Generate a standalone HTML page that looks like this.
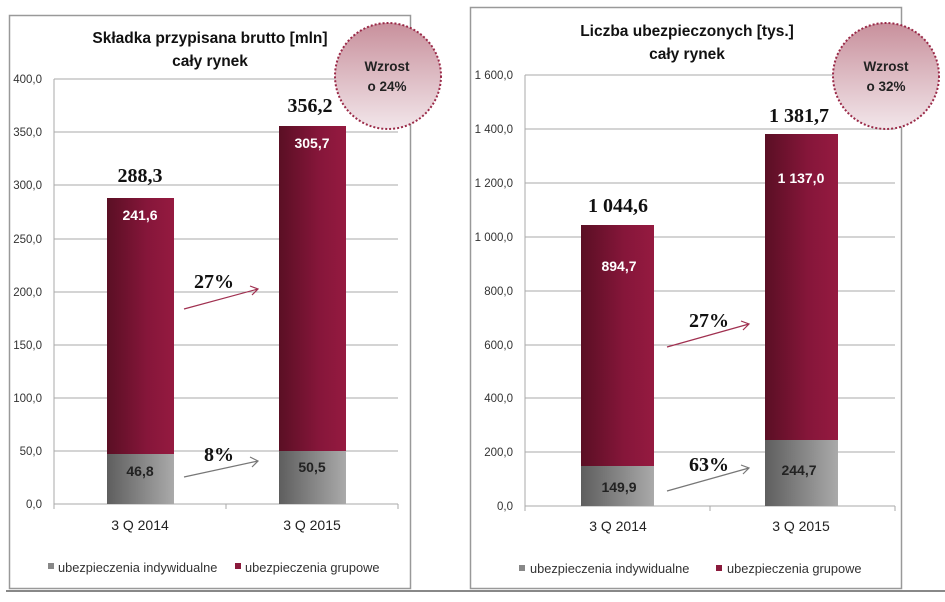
<!DOCTYPE html>
<html><head><meta charset="utf-8"><style>
body{margin:0;background:#fff}
svg{display:block;font-family:"Liberation Sans",sans-serif}
</style></head><body>
<svg width="945" height="602" viewBox="0 0 945 602" xmlns="http://www.w3.org/2000/svg">
<defs>
<linearGradient id="r" x1="0" x2="1" y1="0" y2="0"><stop offset="0" stop-color="#5a0f24"/><stop offset="0.6" stop-color="#86163a"/><stop offset="1" stop-color="#951a40"/></linearGradient>
<linearGradient id="g" x1="0" x2="1" y1="0" y2="0"><stop offset="0" stop-color="#5e5e5e"/><stop offset="1" stop-color="#aaaaaa"/></linearGradient>
<linearGradient id="c" x1="0" x2="0" y1="0" y2="1"><stop offset="0" stop-color="#c8909c"/><stop offset="1" stop-color="#f2e6ea"/></linearGradient>
</defs>
<line x1="6" y1="591" x2="945" y2="591" stroke="#888" stroke-width="2"/>

<!-- LEFT -->
<rect x="9.5" y="15.5" width="401" height="573" fill="#fff" stroke="#999" stroke-width="1.5"/>
<g stroke="#aaa" stroke-width="1">
<line x1="54" y1="79" x2="398" y2="79"/><line x1="54" y1="132" x2="398" y2="132"/><line x1="54" y1="185" x2="398" y2="185"/><line x1="54" y1="239" x2="398" y2="239"/><line x1="54" y1="292" x2="398" y2="292"/><line x1="54" y1="345" x2="398" y2="345"/><line x1="54" y1="398" x2="398" y2="398"/><line x1="54" y1="451" x2="398" y2="451"/><line x1="54" y1="504" x2="398" y2="504"/>
<line x1="54" y1="79" x2="54" y2="509"/><line x1="226" y1="504" x2="226" y2="509"/><line x1="398" y1="504" x2="398" y2="509"/>
</g>
<g font-size="11.5" fill="#333" text-anchor="end">
<text x="42" y="83">400,0</text><text x="42" y="136">350,0</text><text x="42" y="189">300,0</text><text x="42" y="243">250,0</text><text x="42" y="296">200,0</text><text x="42" y="349">150,0</text><text x="42" y="402">100,0</text><text x="42" y="455">50,0</text><text x="42" y="508">0,0</text>
</g>
<rect x="107" y="198" width="67" height="256" fill="url(#r)"/>
<rect x="107" y="454" width="67" height="50" fill="url(#g)"/>
<rect x="279" y="126" width="67" height="325" fill="url(#r)"/>
<rect x="279" y="451" width="67" height="53" fill="url(#g)"/>
<g font-weight="bold" font-size="14" text-anchor="middle">
<text x="140" y="220" fill="#fff">241,6</text><text x="312" y="148" fill="#fff">305,7</text>
<text x="140" y="476" fill="#222">46,8</text><text x="312" y="472" fill="#222">50,5</text>
</g>
<g font-family="Liberation Serif,serif" font-weight="bold" font-size="20" text-anchor="middle" fill="#111">
<text x="140" y="182">288,3</text><text x="310" y="112">356,2</text>
<text x="214" y="288">27%</text><text x="219" y="461">8%</text>
</g>
<g fill="none" stroke-width="1.2">
<path d="M184 309 L258 289 M250 286 L258 289 L252 295" stroke="#a03050"/>
<path d="M184 477 L258 461 M250 457 L258 461 L252 467" stroke="#777"/>
</g>
<g font-weight="bold" font-size="15.5" text-anchor="middle" fill="#111">
<text x="210" y="43">Składka przypisana brutto [mln]</text><text x="210" y="66">cały rynek</text>
</g>
<circle cx="388" cy="76" r="53" fill="url(#c)" stroke="#9a2a48" stroke-width="2" stroke-dasharray="2 2"/>
<g font-weight="bold" font-size="13.5" text-anchor="middle" fill="#222"><text x="387" y="71">Wzrost</text><text x="387" y="91">o 24%</text></g>
<g font-size="14" text-anchor="middle" fill="#222"><text x="140" y="530">3 Q 2014</text><text x="312" y="530">3 Q 2015</text></g>
<rect x="48" y="563" width="6" height="6" fill="#888"/>
<rect x="235" y="563" width="6" height="6" fill="#8b1a3c"/>
<g font-size="12.8" fill="#333"><text x="58" y="572">ubezpieczenia indywidualne</text><text x="245" y="572">ubezpieczenia grupowe</text></g>

<!-- RIGHT -->
<rect x="470.5" y="7.5" width="431" height="581" fill="#fff" stroke="#999" stroke-width="1.5"/>
<g stroke="#aaa" stroke-width="1">
<line x1="525" y1="75" x2="895" y2="75"/><line x1="525" y1="129" x2="895" y2="129"/><line x1="525" y1="183" x2="895" y2="183"/><line x1="525" y1="237" x2="895" y2="237"/><line x1="525" y1="291" x2="895" y2="291"/><line x1="525" y1="345" x2="895" y2="345"/><line x1="525" y1="398" x2="895" y2="398"/><line x1="525" y1="452" x2="895" y2="452"/><line x1="525" y1="506" x2="895" y2="506"/>
<line x1="525" y1="75" x2="525" y2="511"/><line x1="710" y1="506" x2="710" y2="511"/><line x1="895" y1="506" x2="895" y2="511"/>
</g>
<g font-size="11.5" fill="#333" text-anchor="end">
<text x="513" y="79">1 600,0</text><text x="513" y="133">1 400,0</text><text x="513" y="187">1 200,0</text><text x="513" y="241">1 000,0</text><text x="513" y="295">800,0</text><text x="513" y="349">600,0</text><text x="513" y="402">400,0</text><text x="513" y="456">200,0</text><text x="513" y="510">0,0</text>
</g>
<rect x="581" y="225" width="73" height="241" fill="url(#r)"/>
<rect x="581" y="466" width="73" height="40" fill="url(#g)"/>
<rect x="765" y="134" width="73" height="306" fill="url(#r)"/>
<rect x="765" y="440" width="73" height="66" fill="url(#g)"/>
<g font-weight="bold" font-size="14" text-anchor="middle">
<text x="619" y="271" fill="#fff">894,7</text><text x="801" y="183" fill="#fff">1 137,0</text>
<text x="619" y="492" fill="#222">149,9</text><text x="799" y="475" fill="#222">244,7</text>
</g>
<g font-family="Liberation Serif,serif" font-weight="bold" font-size="20" text-anchor="middle" fill="#111">
<text x="618" y="212">1 044,6</text><text x="799" y="122">1 381,7</text>
<text x="709" y="327">27%</text><text x="709" y="471">63%</text>
</g>
<g fill="none" stroke-width="1.2">
<path d="M667 347 L749 324 M741 321 L749 324 L743 330" stroke="#a03050"/>
<path d="M667 491 L749 468 M741 465 L749 468 L743 474" stroke="#777"/>
</g>
<g font-weight="bold" font-size="15.5" text-anchor="middle" fill="#111">
<text x="687" y="36">Liczba ubezpieczonych [tys.]</text><text x="687" y="59">cały rynek</text>
</g>
<circle cx="886" cy="76" r="53" fill="url(#c)" stroke="#9a2a48" stroke-width="2" stroke-dasharray="2 2"/>
<g font-weight="bold" font-size="13.5" text-anchor="middle" fill="#222"><text x="886" y="71">Wzrost</text><text x="886" y="91">o 32%</text></g>
<g font-size="14" text-anchor="middle" fill="#222"><text x="618" y="531">3 Q 2014</text><text x="801" y="531">3 Q 2015</text></g>
<rect x="519" y="565" width="6" height="6" fill="#888"/>
<rect x="716" y="565" width="6" height="6" fill="#8b1a3c"/>
<g font-size="12.8" fill="#333"><text x="530" y="573">ubezpieczenia indywidualne</text><text x="727" y="573">ubezpieczenia grupowe</text></g>
</svg>
</body></html>
